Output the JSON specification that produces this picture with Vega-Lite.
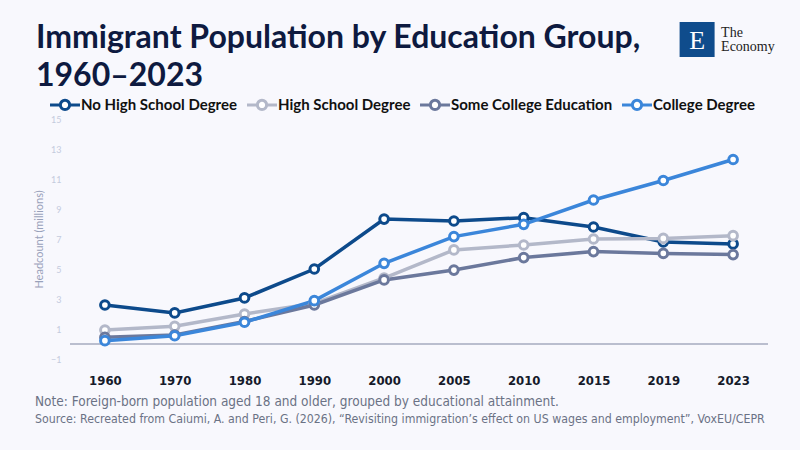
{
  "$schema": "https://vega.github.io/schema/vega-lite/v6.json",
  "autosize": "none",
  "width": 698,
  "height": 240,
  "padding": {"left": 70, "top": 119, "right": 32, "bottom": 91},
  "background": "#f8f8fd",
  "title": {
    "text": "Note: Foreign-born population aged 18 and older, grouped by educational attainment.",
    "subtitle": "Source: Recreated from Caiumi, A. and Peri, G. (2026), “Revisiting immigration’s effect on US wages and employment”, VoxEU/CEPR",
    "orient": "bottom",
    "anchor": "start",
    "frame": "group",
    "dx": -35,
    "offset": 8,
    "font": "DejaVu Sans Condensed",
    "fontSize": 13.5,
    "fontWeight": "normal",
    "color": "#6b7285",
    "subtitleFont": "DejaVu Sans Condensed",
    "subtitleFontSize": 12.25,
    "subtitleColor": "#6b7285",
    "subtitlePadding": 4
  },
  "config": {
    "view": {"stroke": null},
    "axis": {"domain": false, "ticks": false},
    "axisY": {"labelOverlap": false}
  },
  "layer": [
    {
      "data": {"values": [{}]},
      "mark": {"type": "rule", "color": "#7d84a0", "strokeWidth": 1},
      "encoding": {"y": {"datum": 0, "type": "quantitative"}}
    },
    {
      "data": {
        "values": [
          {"year": "1960", "group": "No High School Degree", "value": 2.6},
          {"year": "1970", "group": "No High School Degree", "value": 2.07},
          {"year": "1980", "group": "No High School Degree", "value": 3.07},
          {"year": "1990", "group": "No High School Degree", "value": 5.0},
          {"year": "2000", "group": "No High School Degree", "value": 8.33},
          {"year": "2005", "group": "No High School Degree", "value": 8.2},
          {"year": "2010", "group": "No High School Degree", "value": 8.42},
          {"year": "2015", "group": "No High School Degree", "value": 7.8},
          {"year": "2019", "group": "No High School Degree", "value": 6.8},
          {"year": "2023", "group": "No High School Degree", "value": 6.67},
          {"year": "1960", "group": "High School Degree", "value": 0.93},
          {"year": "1970", "group": "High School Degree", "value": 1.18},
          {"year": "1980", "group": "High School Degree", "value": 2.0},
          {"year": "1990", "group": "High School Degree", "value": 2.7},
          {"year": "2000", "group": "High School Degree", "value": 4.4},
          {"year": "2005", "group": "High School Degree", "value": 6.27},
          {"year": "2010", "group": "High School Degree", "value": 6.6},
          {"year": "2015", "group": "High School Degree", "value": 7.0},
          {"year": "2019", "group": "High School Degree", "value": 7.04},
          {"year": "2023", "group": "High School Degree", "value": 7.22},
          {"year": "1960", "group": "Some College Education", "value": 0.45},
          {"year": "1970", "group": "Some College Education", "value": 0.6},
          {"year": "1980", "group": "Some College Education", "value": 1.5},
          {"year": "1990", "group": "Some College Education", "value": 2.6},
          {"year": "2000", "group": "Some College Education", "value": 4.27},
          {"year": "2005", "group": "Some College Education", "value": 4.93},
          {"year": "2010", "group": "Some College Education", "value": 5.76},
          {"year": "2015", "group": "Some College Education", "value": 6.16},
          {"year": "2019", "group": "Some College Education", "value": 6.04},
          {"year": "2023", "group": "Some College Education", "value": 5.96},
          {"year": "1960", "group": "College Degree", "value": 0.22},
          {"year": "1970", "group": "College Degree", "value": 0.55},
          {"year": "1980", "group": "College Degree", "value": 1.45},
          {"year": "1990", "group": "College Degree", "value": 2.89},
          {"year": "2000", "group": "College Degree", "value": 5.38},
          {"year": "2005", "group": "College Degree", "value": 7.16},
          {"year": "2010", "group": "College Degree", "value": 7.98},
          {"year": "2015", "group": "College Degree", "value": 9.6},
          {"year": "2019", "group": "College Degree", "value": 10.9},
          {"year": "2023", "group": "College Degree", "value": 12.3}
        ]
      },
      "mark": {
        "type": "line",
        "strokeWidth": 3.5,
        "point": {"filled": false, "fill": "white", "size": 75, "strokeWidth": 3, "opacity": 1}
      },
      "encoding": {
        "x": {
          "field": "year",
          "type": "ordinal",
          "axis": {
            "title": null,
            "labelAngle": 0,
            "labelFont": "DejaVu Sans Condensed",
            "labelFontSize": 13,
            "labelFontWeight": "bold",
            "labelColor": "#151a2a",
            "labelPadding": 15
          }
        },
        "y": {
          "field": "value",
          "type": "quantitative",
          "scale": {"domain": [-1, 15], "nice": false, "zero": false},
          "axis": {
            "values": [-1, 1, 3, 5, 7, 9, 11, 13, 15],
            "tickCount": 10,
            "labelOverlap": false,
            "title": "Headcount (millions)",
            "titleFont": "Lato",
            "titleFontSize": 11,
            "titleFontWeight": "normal",
            "titleColor": "#98a1ba",
            "titlePadding": 6,
            "labelFont": "Lato",
            "labelFontSize": 9,
            "labelColor": "#c4cbdd",
            "labelPadding": 9,
            "gridColor": "#d6dbe8",
            "gridWidth": 1
          }
        },
        "color": {
          "field": "group",
          "type": "nominal",
          "scale": {
            "domain": ["No High School Degree", "High School Degree", "Some College Education", "College Degree"],
            "range": ["#0d4a8b", "#b3b8c9", "#6b789c", "#3b86da"]
          },
          "legend": {
            "orient": "none",
            "direction": "horizontal",
            "legendX": -34,
            "legendY": -96,
            "title": ["Immigrant Population by Education Group,", "1960–2023"],
            "titleFont": "Lato",
            "titleFontSize": 32,
            "titleFontWeight": "bold",
            "titleColor": "#0e1a40",
            "titleLineHeight": 38,
            "titleLimit": 800,
            "titlePadding": -5,
            "symbolType": "M-1,0H-0.33M0.33,0H1M-0.31,0A0.31,0.31 0 1,0 0.31,0A0.31,0.31 0 1,0 -0.31,0",
            "symbolSize": 900,
            "symbolStrokeWidth": 3,
            "labelOffset": 1,
            "labelFont": "Lato",
            "labelFontSize": 15,
            "labelFontWeight": "bold",
            "labelColor": "#111111",
            "labelLimit": 300,
            "columnPadding": 3,
            "encode": {
              "symbols": {"update": {"fill": {"value": "white"}, "x": {"signal": "datum.index === 0 ? 29 : 15"}}},
              "labels": {"update": {"x": {"signal": "datum.index === 0 ? 45 : 31"}}}
            }
          }
        }
      }
    },
    {
      "data": {"values": [{"brand": "E", "name1": "The", "name2": "Economy"}]},
      "layer": [
        {
          "mark": {"type": "square", "color": "#0f4c8c", "opacity": 1, "size": 1225, "clip": false},
          "encoding": {
            "x": {"datum": "2023", "type": "ordinal"},
            "xOffset": {"value": -36},
            "y": {"datum": 20.3, "type": "quantitative"}
          }
        },
        {
          "mark": {"type": "text", "font": "Liberation Serif", "fontSize": 26, "color": "white", "dx": -36, "dy": 1, "baseline": "middle"},
          "encoding": {
            "x": {"datum": "2023", "type": "ordinal"},
            "y": {"datum": 20.3, "type": "quantitative"},
            "text": {"field": "brand"}
          }
        },
        {
          "mark": {"type": "text", "font": "Liberation Serif", "fontSize": 14, "color": "#222222", "align": "left", "dx": -12, "dy": -7, "baseline": "middle"},
          "encoding": {
            "x": {"datum": "2023", "type": "ordinal"},
            "y": {"datum": 20.3, "type": "quantitative"},
            "text": {"field": "name1"}
          }
        },
        {
          "mark": {"type": "text", "font": "Liberation Serif", "fontSize": 14, "color": "#222222", "align": "left", "dx": -12, "dy": 7, "baseline": "middle"},
          "encoding": {
            "x": {"datum": "2023", "type": "ordinal"},
            "y": {"datum": 20.3, "type": "quantitative"},
            "text": {"field": "name2"}
          }
        }
      ]
    }
  ]
}
